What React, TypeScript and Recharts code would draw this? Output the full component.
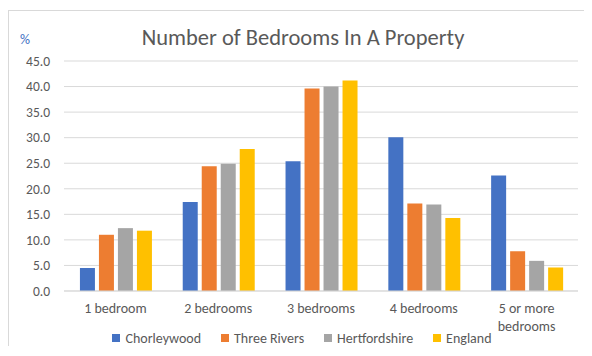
import React from 'react';
import { BarChart, Bar, XAxis, YAxis, CartesianGrid, Legend, Text } from 'recharts';

const categories = ['1 bedroom', '2 bedrooms', '3 bedrooms', '4 bedrooms', '5 or more bedrooms'];
const chorleywood = [4.5, 17.4, 25.4, 30.1, 22.6];
const threeRivers = [11.0, 24.4, 39.6, 17.1, 7.8];
const hertfordshire = [12.3, 24.9, 40.0, 16.9, 5.9];
const england = [11.8, 27.8, 41.2, 14.3, 4.6];
const yTicks = [0, 5, 10, 15, 20, 25, 30, 35, 40, 45];

const seriesNames = ['Chorleywood', 'Three Rivers', 'Hertfordshire', 'England'];
const seriesKeys = ['chorleywood', 'threeRivers', 'hertfordshire', 'england'];
const colors = ['#4472C4', '#ED7D31', '#A5A5A5', '#FFC000'];

const data = categories.map((c, i) => ({
  category: c,
  chorleywood: chorleywood[i],
  threeRivers: threeRivers[i],
  hertfordshire: hertfordshire[i],
  england: england[i],
}));

const FONT = 'Carlito, Lato, sans-serif';
const TEXT = '#595959';

const CatTick = (props: any) => {
  const { x, y, payload } = props;
  return (
    <Text
      x={x}
      y={y}
      width={96}
      textAnchor="middle"
      verticalAnchor="start"
      lineHeight={18.5}
      fill={TEXT}
      fontSize={14}
      fontFamily={FONT}
    >
      {payload.value}
    </Text>
  );
};

const LegendContent = () => (
  <div
    style={{
      display: 'flex',
      justifyContent: 'center',
      alignItems: 'center',
      height: 16,
      paddingLeft: 18,
      fontFamily: FONT,
      fontSize: 14,
      color: TEXT,
    }}
  >
    {seriesNames.map((n, i) => (
      <div key={n} style={{ display: 'flex', alignItems: 'center', marginRight: i < 3 ? 20 : 0 }}>
        <span style={{ width: 8, height: 8, background: colors[i], display: 'inline-block', marginRight: 5 }} />
        <span>{n}</span>
      </div>
    ))}
  </div>
);

export default function App() {
  return (
    <div style={{ position: 'relative', width: 584, height: 338, top: 2 }}>
      <div
        style={{
          position: 'absolute',
          left: 0,
          top: 0,
          right: 0,
          bottom: 0,
          borderTop: '1px solid #d9d9d9',
          borderLeft: '1px solid #d9d9d9',
          pointerEvents: 'none',
        }}
      />
      <div
        style={{
          position: 'absolute',
          left: 0,
          width: 590,
          top: 14,
          textAlign: 'center',
          fontFamily: FONT,
          fontSize: 22.5,
          color: TEXT,
          lineHeight: '27px',
        }}
      >
        Number of Bedrooms In A Property
      </div>
      <div
        style={{
          position: 'absolute',
          left: 12,
          top: 22,
          fontFamily: FONT,
          fontSize: 14,
          color: '#4472C4',
          lineHeight: '16px',
        }}
      >
        %
      </div>
      <BarChart
        width={584}
        height={338}
        data={data}
        margin={{ top: 51, right: 14, left: 0, bottom: 2 }}
        barCategoryGap="15.5%"
        barGap={4}
      >
        <CartesianGrid vertical={false} stroke="#d9d9d9" />
        <XAxis
          dataKey="category"
          axisLine={{ stroke: '#d9d9d9' }}
          tickLine={false}
          height={39}
          tickMargin={6}
          tick={<CatTick />}
          interval={0}
        />
        <YAxis
          width={56}
          domain={[0, 45]}
          ticks={yTicks}
          axisLine={false}
          tickLine={false}
          tickMargin={8}
          tickFormatter={(v: number) => v.toFixed(1)}
          tick={{ fill: TEXT, fontSize: 13.5, fontFamily: FONT }}
        />
        <Legend verticalAlign="bottom" content={<LegendContent />} />
        {seriesKeys.map((k, i) => (
          <Bar key={k} dataKey={k} name={seriesNames[i]} fill={colors[i]} isAnimationActive={false} />
        ))}
      </BarChart>
    </div>
  );
}
